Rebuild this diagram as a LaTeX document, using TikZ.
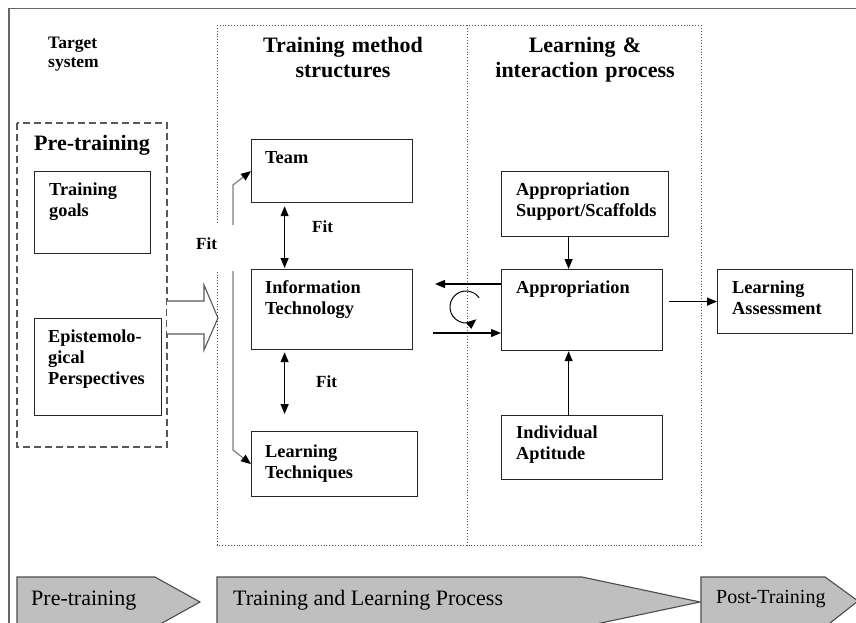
\documentclass[tikz,border=0pt]{standalone}
\usepackage{fontspec}
\setmainfont{Liberation Serif}
\usetikzlibrary{arrows.meta,calc}

\tikzset{
	box/.style={draw=black!85, line width=1.2pt, anchor=north west, inner sep=0pt},
	boxtext/.style={anchor=base west, inner sep=0pt, text width=150pt, align=left, font=\bfseries\fontsize{18.3}{21}\selectfont},
	head/.style={anchor=base, inner sep=0pt, text width=220pt, align=center, font=\bfseries\fontsize{22}{25}\selectfont},
	fitlabel/.style={anchor=base west, inner sep=0pt, font=\bfseries\fontsize{17}{20}\selectfont},
	arr/.style={line width=1.2pt, -{Triangle[length=10pt,width=8pt]}},
	fitarr/.style={line width=1.2pt, {Triangle[length=10pt,width=8pt]}-{Triangle[length=10pt,width=8pt]}},
	fitline/.style={draw=black!50, line width=1.2pt, -{Triangle[length=10pt,width=8pt,color=black]}},
	chevron/.style={draw=black!70, fill=black!25, line width=1.1pt},
	chevtext/.style={anchor=base west, inner sep=0pt, font=\fontsize{22}{25}\selectfont},
}

\begin{document}
\begin{tikzpicture}[x=1pt, y=-1pt]
			%%%%% START %%%%%
			\useasboundingbox (0,0) rectangle (856,623);
			\clip (0,0) rectangle (856,623);
			\fill[white] (0,0) rectangle (856,623);
			
			\draw[draw=black!60, line width=1.2pt] (9,623) -- (9,8.5) -- (856,8.5);
			
			\node[anchor=base west, inner sep=0pt, text width=80pt, align=left, font=\bfseries\fontsize{17.5}{19}\selectfont] (target) at (48,49) {Target\\system};
			
			% pre-training
			\draw[draw=black!65, dash pattern=on 7pt off 4pt, line width=1.1pt] (17,123) rectangle (167,447);
			\node[anchor=base west, inner sep=0pt, font=\bfseries\fontsize{22}{25}\selectfont] (pretitle) at (34,150) {Pre-training};
			\node[box, minimum width=116pt, minimum height=82pt] (goals) at (34,171) {};
			\node[boxtext] (goalstext) at ($(goals.north west)+(15,24)$) {Training\\goals};
			\node[box, minimum width=127pt, minimum height=97pt] (epi) at (34,318) {};
			\node[boxtext] (epitext) at ($(epi.north west)+(14,24)$) {Epistemolo-\\gical\\Perspectives};
			
			\draw[draw=black!65, line width=1.1pt, fill=white] (167,301) -- (204,301) -- (204,285) -- (218,318) -- (204,350) -- (204,334) -- (167,334);
			
			% dotted frame
			\draw[black!70, dotted, line width=0.9pt] (217,223) -- (217,25.5) -- (701,25.5) -- (701,545) -- (217,545) -- (217,272);
			\draw[black!70, dotted, line width=0.9pt] (467,25.5) -- (467,545);
			\node[head] (tmhead) at (343,53) {Training method\\structures};
			\node[head] (lihead) at (585,53) {Learning \&\\interaction process};
			
			% training method structures
			\node[box, minimum width=161pt, minimum height=63pt] (team) at (251,139) {};
			\node[boxtext] (teamtext) at ($(team.north west)+(14,24)$) {Team};
			\node[box, minimum width=161pt, minimum height=80pt] (it) at (251,269) {};
			\node[boxtext] (ittext) at ($(it.north west)+(14,24)$) {Information\\Technology};
			\node[box, minimum width=166pt, minimum height=65pt] (lt) at (251,431) {};
			\node[boxtext] (lttext) at ($(lt.north west)+(14,26)$) {Learning\\Techniques};
			
			\draw[fitarr] ($(team.south)+(-47.5,3)$) -- ($(it.north)+(-47.5,-1)$);
			\draw[fitarr] ($(it.south)+(-47.5,2)$) -- ($(lt.north)+(-50,-17)$);
			\node[fitlabel] (fit1) at (312,232) {Fit};
			\node[fitlabel] (fit2) at (316,387) {Fit};
			\node[fitlabel] (fit0) at (196,249) {Fit};
			
			\coordinate (fittop) at (233,225);
			\coordinate (fitbot) at (233,271);
			\draw[fitline] (fittop) -- ++(0,-40) -- (team.west);
			\draw[fitline] (fitbot) -- ++(0,179) -- (lt.west);
			
			% learning & interaction
			\node[box, minimum width=167pt, minimum height=65pt] (sup) at (501,171) {};
			\node[boxtext] (suptext) at ($(sup.north west)+(15,24)$) {Appropriation\\Support/Scaffolds};
			\node[box, minimum width=161pt, minimum height=81pt] (appr) at (501,269) {};
			\node[boxtext] (apprtext) at ($(appr.north west)+(15,24)$) {Appropriation};
			\node[box, minimum width=161pt, minimum height=64pt] (ind) at (501,415) {};
			\node[boxtext] (indtext) at ($(ind.north west)+(15,23)$) {Individual\\Aptitude};
			\node[box, minimum width=135pt, minimum height=64pt] (la) at (717,269) {};
			\node[boxtext] (latext) at ($(la.north west)+(15,24)$) {Learning\\Assessment};
			
			\draw[arr] ($(sup.south)+(-16.5,0)$) -- ($(appr.north)+(-13.5,0)$);
			\draw[arr] ($(ind.north)+(-13.5,0)$) -- ($(appr.south)+(-13.5,0)$);
			\draw[arr] ($(appr.east |- la.west)+(6,0)$) -- (la.west);
			
			\coordinate (backtip) at (435,284);
			\coordinate (fwdtail) at (433,333);
			\coordinate (cyc) at (466,307);
			\draw[arr] ($(appr.north west)+(0,15)$) -- (backtip);
			\draw[arr] (fwdtail) -- ($(appr.north west)+(0,64)$);
			\draw[arr, line width=1pt] (cyc) ++(-35:16) arc (-35:-310:16);
			
			% phases
			\draw[chevron] (17,577) -- (155,577) -- (200,602) -- (155,627) -- (17,627) -- cycle;
			\draw[chevron] (217,577) -- (582,577) -- (700,602) -- (582,627) -- (217,627) -- cycle;
			\draw[chevron] (701,577) -- (825,577) -- (858,601) -- (825,627) -- (701,627) -- cycle;
			\node[chevtext] (phpre) at (31,605) {Pre-training};
			\node[chevtext] (phtrain) at (233,605) {Training and Learning Process};
			\node[chevtext, font=\fontsize{20}{24}\selectfont] (phpost) at (716,603) {Post-Training};
			%%%%% END %%%%%
\end{tikzpicture}
\end{document}
